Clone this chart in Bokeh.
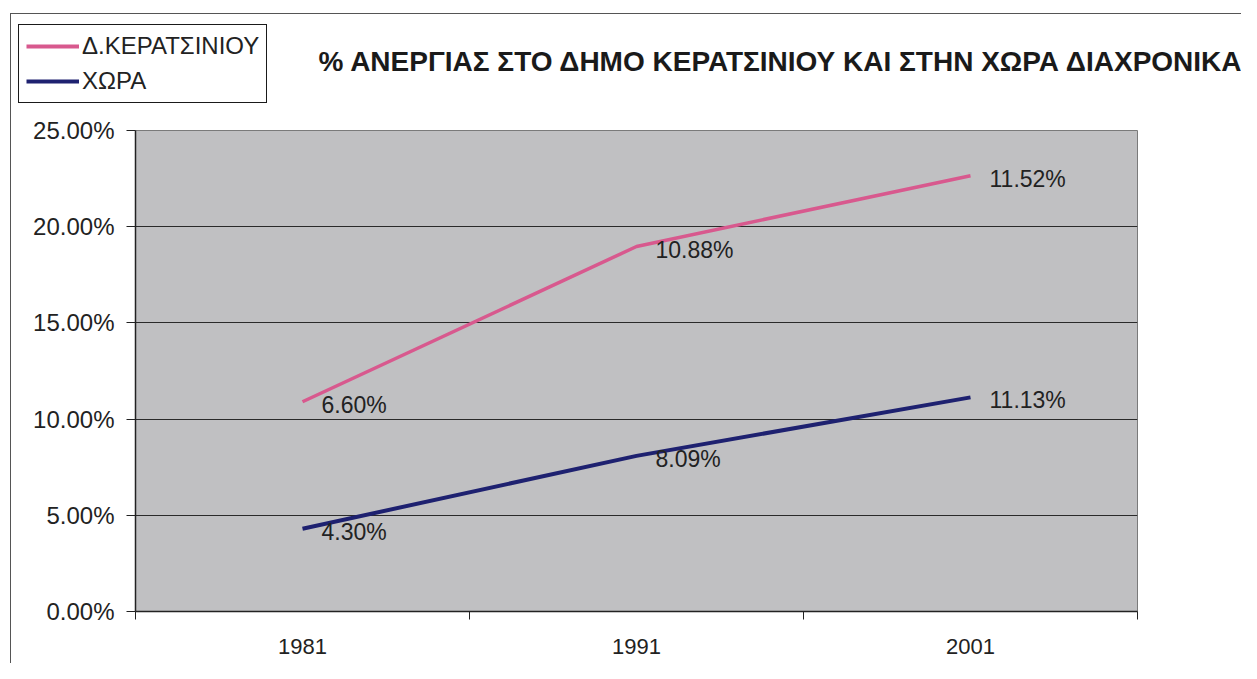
from bokeh.plotting import figure
from bokeh.layouts import column
from bokeh.models import (ColumnDataSource, FixedTicker, PrintfTickFormatter, Range1d,
                          Legend, LegendItem, Label)
from bokeh.core.properties import value
from bokeh.embed import file_html
from bokeh.resources import INLINE

# ---- data ----
years = ["1981", "1991", "2001"]
keratsini = [6.60, 10.88, 11.52]   # Δ.ΚΕΡΑΤΣΙΝΙΟΥ (stacked on top of ΧΩΡΑ)
chora = [4.30, 8.09, 11.13]        # ΧΩΡΑ
y_ticks = [0, 5, 10, 15, 20, 25]
title_text = "% ΑΝΕΡΓΙΑΣ ΣΤΟ ΔΗΜΟ ΚΕΡΑΤΣΙΝΙΟΥ ΚΑΙ ΣΤΗΝ ΧΩΡΑ ΔΙΑΧΡΟΝΙΚΑ"
series_names = ["Δ.ΚΕΡΑΤΣΙΝΙΟΥ", "ΧΩΡΑ"]

FONT = "Liberation Sans"
PINK = "#d8598e"
NAVY = "#1e2170"
TXT = "#222222"

xpos = [i + 0.5 for i in range(len(years))]
stacked = [c + k for c, k in zip(chora, keratsini)]

src_k = ColumnDataSource(dict(x=xpos, y=stacked, lab=["%.2f%%" % v for v in keratsini]))
src_c = ColumnDataSource(dict(x=xpos, y=chora, lab=["%.2f%%" % v for v in chora]))

W = 1241
HH = 106          # header (legend + title)
HM = 663 - HH     # main chart

# ---------------- header ----------------
h = figure(width=W, height=HH, output_backend="svg", toolbar_location=None,
           x_axis_type=None, y_axis_type=None,
           x_range=Range1d(0, 1), y_range=Range1d(0, 1),
           min_border=0, min_border_left=0, min_border_right=0,
           min_border_top=0, min_border_bottom=0)
h.frame_align = False
h.outline_line_color = None
h.grid.visible = False
h.background_fill_alpha = 0
h.border_fill_alpha = 0
# legend-only renderers (kept outside the visible range)
dk = h.line(x=[-5, -4], y=[-5, -5], line_color=PINK, line_width=4)
dc = h.line(x=[-5, -4], y=[-5, -5], line_color=NAVY, line_width=4)
legend = Legend(items=[LegendItem(label=series_names[0], renderers=[dk]),
                       LegendItem(label=series_names[1], renderers=[dc])],
                location=(18, HH - 103), orientation="vertical",
                label_text_font=FONT, label_text_font_size="24px",
                label_text_color=TXT,
                glyph_width=53, glyph_height=28, label_height=28,
                label_standoff=3, spacing=7, padding=7, margin=0,
                border_line_color="#1a1a1a", border_line_width=1.2,
                border_line_alpha=1,
                background_fill_color="white", background_fill_alpha=1)
h.add_layout(legend, "center")
h.add_layout(Label(x=318, y=HH - 61, x_units="screen", y_units="screen", text=title_text,
                   text_font=FONT, text_font_style="bold", text_font_size="28px",
                   text_color="#1a1a1a", text_baseline="middle", text_align="left"))

# ---------------- main chart ----------------
p = figure(width=W, height=HM, output_backend="svg", toolbar_location=None,
           x_range=Range1d(0, len(years)), y_range=Range1d(0, 25),
           min_border_left=135, min_border_right=W - 1137, min_border_top=130 - HH,
           min_border_bottom=HM - (611 - HH))
p.frame_align = False
p.background_fill_color = "#c0c0c2"
p.border_fill_alpha = 0
p.outline_line_color = "#7a7a7a"
p.outline_line_width = 1

# y axis
p.yaxis.ticker = FixedTicker(ticks=y_ticks)
p.yaxis.formatter = PrintfTickFormatter(format="%.2f%%")
p.yaxis.major_label_text_font = FONT
p.yaxis.major_label_text_font_size = "24px"
p.yaxis.major_label_text_color = TXT
p.yaxis.major_tick_out = 9
p.yaxis.major_tick_in = 0
p.yaxis.minor_tick_line_color = None
p.yaxis.major_label_standoff = 12
p.yaxis.axis_line_color = TXT
p.yaxis.axis_line_width = 1.5
p.yaxis.major_tick_line_color = TXT

# x axis
p.xaxis.ticker = FixedTicker(ticks=xpos, minor_ticks=list(range(len(years) + 1)))
p.xaxis.major_label_overrides = {x: y for x, y in zip(xpos, years)}
p.xaxis.major_label_text_font = FONT
p.xaxis.major_label_text_font_size = "22px"
p.xaxis.major_label_text_color = TXT
p.xaxis.major_tick_out = 0
p.xaxis.major_tick_in = 0
p.xaxis.minor_tick_out = 8
p.xaxis.minor_tick_in = 0
p.xaxis.minor_tick_line_color = TXT
p.xaxis.major_label_standoff = 19
p.xaxis.axis_line_color = TXT
p.xaxis.axis_line_width = 1.5

# grid
p.xgrid.grid_line_color = None
p.ygrid.ticker = FixedTicker(ticks=y_ticks[1:-1])
p.ygrid.grid_line_color = "#2a2a2a"
p.ygrid.grid_line_width = 1.2

# lines
p.line("x", "y", source=src_k, line_color=PINK, line_width=3.5)
p.line("x", "y", source=src_c, line_color=NAVY, line_width=4)

for src in (src_k, src_c):
    p.text("x", "y", text="lab", source=src, x_offset=19, y_offset=3,
           text_font=value(FONT), text_font_size="23px", text_color=TXT,
           text_baseline="middle", text_align="left")

page = column(h, p, spacing=0,
              styles={"background":
                      "linear-gradient(#555,#555) 10px 13px / 1px 100% no-repeat, "
                      "linear-gradient(#555,#555) 10px 13px / 100% 1px no-repeat"})

open("out.html", "w").write(file_html(page, INLINE))
